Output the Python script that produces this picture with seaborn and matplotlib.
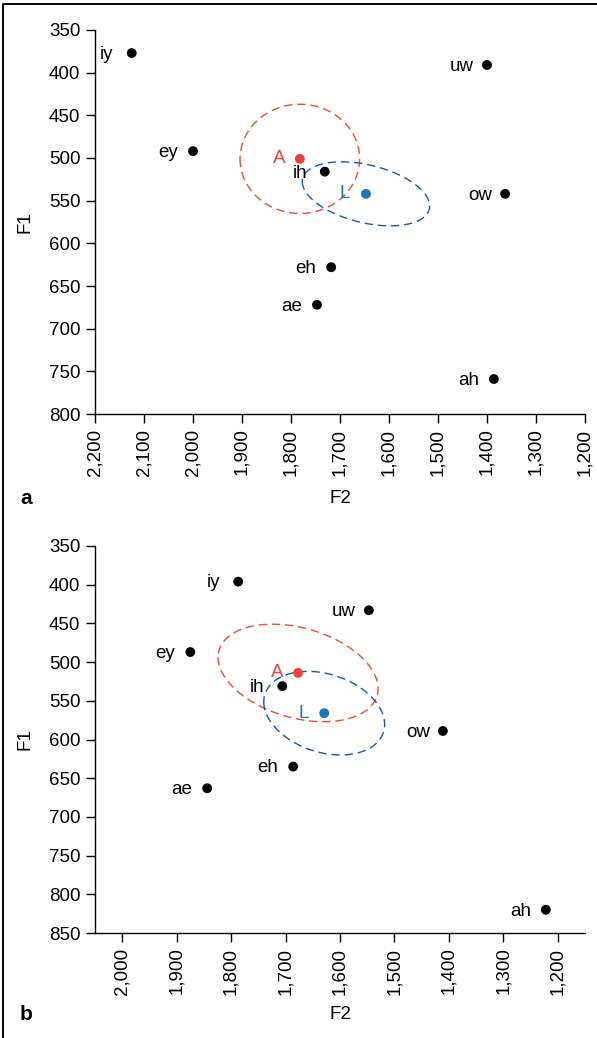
import numpy as np
import pandas as pd
import seaborn as sns
import matplotlib.pyplot as plt
from matplotlib.lines import Line2D
from matplotlib.ticker import StrMethodFormatter

vowels = ['iy', 'ey', 'ih', 'eh', 'ae', 'uw', 'ow', 'ah']

# panel a: vowel formants (Hz)
f2_a = [2125, 2000, 1731, 1718, 1747, 1400, 1363, 1386]
f1_a = [377, 492, 516, 628, 672, 391, 542, 759]
# panel b
f2_b = [1787, 1875, 1706, 1686, 1844, 1547, 1411, 1222]
f1_b = [396, 487, 531, 635, 663, 433, 589, 820]

# A / L means and spread (sd F2, sd F1, correlation)
groups = ['A', 'L']
mean_f2_a = [1782, 1647]
mean_f1_a = [501, 542]
sd_f2_a = [122, 130]
sd_f1_a = [64, 37.5]
rho_a = [0.0, -0.38]

mean_f2_b = [1677, 1629]
mean_f1_b = [514, 566]
sd_f2_b = [147, 111]
sd_f1_b = [63, 54]
rho_b = [-0.32, -0.27]

x_ticks_a = list(range(2200, 1199, -100))
x_ticks_b = list(range(2000, 1199, -100))
y_ticks_a = list(range(350, 801, 50))
y_ticks_b = list(range(350, 851, 50))

dot_colors = {'A': '#EF4136', 'L': '#1B75BB'}
line_colors = {'A': '#EE4B3B', 'L': '#1F56A0'}

sns.set_style('ticks')
plt.rcParams['font.family'] = ['Liberation Sans', 'DejaVu Sans']
plt.rcParams['font.size'] = 13.5
plt.rcParams['text.color'] = 'black'
plt.rcParams['axes.labelcolor'] = 'black'
plt.rcParams['xtick.color'] = 'black'
plt.rcParams['ytick.color'] = 'black'

fig = plt.figure(figsize=(5.97, 10.38), dpi=100)
ax_a = fig.add_axes([95 / 597, 1 - 414 / 1038, 490 / 597, 384 / 1038])
ax_b = fig.add_axes([95 / 597, 1 - 933 / 1038, 490 / 597, 387 / 1038])


def draw_panel(ax, f2, f1, mf2, mf1, sdx, sdy, rho, xlim, ylim, xticks, yticks):
    df = pd.DataFrame({'F2': f2, 'F1': f1, 'vowel': vowels})
    sns.scatterplot(data=df, x='F2', y='F1', color='black', s=50,
                    edgecolor='none', ax=ax, zorder=3)
    for _, r in df.iterrows():
        ax.annotate(r['vowel'], (r['F2'], r['F1']), xytext=(-18, -1),
                    textcoords='offset points', ha='center', va='center',
                    fontsize=13.5, color='black')

    t = np.linspace(0, 2 * np.pi, 300)
    for i, g in enumerate(groups):
        ex = mf2[i] + sdx[i] * np.cos(t)
        ey = mf1[i] + sdy[i] * (rho[i] * np.cos(t) + np.sqrt(1 - rho[i] ** 2) * np.sin(t))
        ax.plot(ex, ey, color=line_colors[g], lw=1.0, dashes=(6, 3.5), zorder=2)
        ax.scatter([mf2[i]], [mf1[i]], color=dot_colors[g], s=50,
                   edgecolor='none', zorder=4)
        ax.annotate(g, (mf2[i], mf1[i]), xytext=(-15, 0),
                    textcoords='offset points', ha='center', va='center',
                    fontsize=13.5, color=dot_colors[g])

    ax.set_xlim(*xlim)
    ax.set_ylim(*ylim)
    ax.set_xticks(xticks)
    ax.set_yticks(yticks)
    ax.xaxis.set_major_formatter(StrMethodFormatter('{x:,.0f}'))
    ax.tick_params(axis='x', rotation=90)
    ax.tick_params(length=6.5, width=1.0, color='black', pad=4)
    for s in ['top', 'right']:
        ax.spines[s].set_visible(False)
    for s in ['left', 'bottom']:
        ax.spines[s].set_linewidth(1.0)
        ax.spines[s].set_color('black')
    ax.set_xlabel('F2')
    ax.set_ylabel('F1')
    ax.yaxis.set_label_coords(-0.125, 0.5)


draw_panel(ax_a, f2_a, f1_a, mean_f2_a, mean_f1_a, sd_f2_a, sd_f1_a, rho_a,
           (2200, 1200), (800, 350), x_ticks_a, y_ticks_a)
draw_panel(ax_b, f2_b, f1_b, mean_f2_b, mean_f1_b, sd_f2_b, sd_f1_b, rho_b,
           (2050, 1150), (850, 350), x_ticks_b, y_ticks_b)
ax_a.xaxis.set_label_coords(0.5, -0.198)
ax_b.xaxis.set_label_coords(0.5, -0.189)

fig.text(20 / 597, 1 - 504 / 1038, 'a', fontsize=15, fontweight='bold', va='baseline')
fig.text(20 / 597, 1 - 1020 / 1038, 'b', fontsize=15, fontweight='bold', va='baseline')

# outer frame (left and top edges)
fig.add_artist(Line2D([3 / 597, 3 / 597, 1.0], [0.0, 1 - 4 / 1038, 1 - 4 / 1038],
                      transform=fig.transFigure, color='black', lw=1.4))

fig.savefig('out.png', dpi=100)
